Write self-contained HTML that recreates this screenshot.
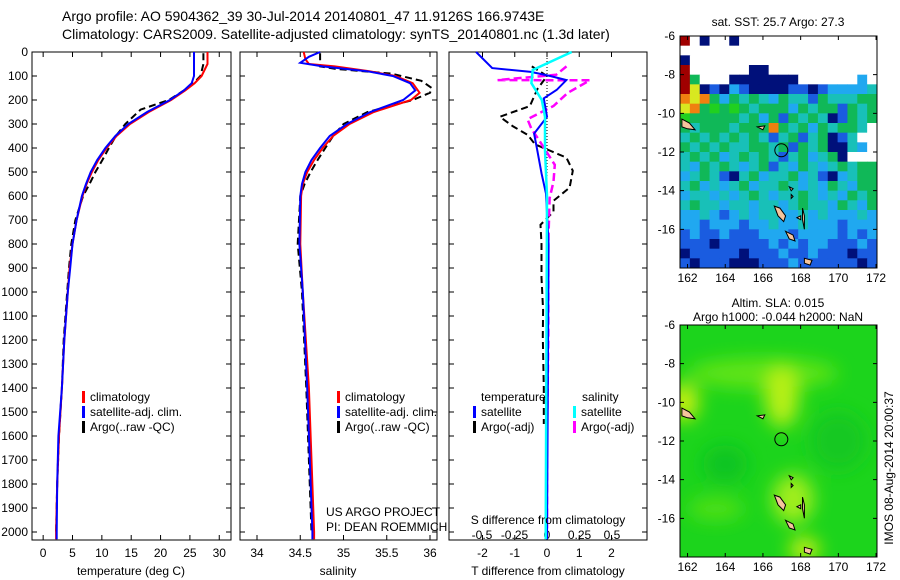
<!DOCTYPE html>
<html><head><meta charset="utf-8"><style>
html,body{margin:0;padding:0;background:#fff;}
svg{display:block;font-family:"Liberation Sans",sans-serif;}
</style></head><body>
<svg id="fig" width="900" height="580" viewBox="0 0 900 580" xmlns="http://www.w3.org/2000/svg">
<text x="62" y="21" font-size="14">Argo profile: AO 5904362_39 30-Jul-2014 20140801_47 11.9126S 166.9743E</text>
<text x="62" y="39" font-size="14">Climatology: CARS2009. Satellite-adjusted climatology: synTS_20140801.nc (1.3d later)</text>
<g id="p1"></g>
<g id="p2"></g>
<g id="p3"></g>
<g id="m1"></g>
<g id="m2"></g>
<text transform="translate(893,468) rotate(-90)" text-anchor="middle" font-size="12">IMOS 08-Aug-2014 20:00:37</text>
</svg>
<script>
// ---- data ----
const depthTicks=[0,100,200,300,400,500,600,700,800,900,1000,1100,1200,1300,1400,1500,1600,1700,1800,1900,2000];
const tempTicks=[0,5,10,15,20,25,30];
const salTicks=[34,34.5,35,35.5,36];
const salTickLabels=["34","34.5","35","35.5","36"];
const tdiffTicks=[-2,-1,0,1,2];
const sdiffTicks=[-0.5,-0.25,0,0.25,0.5];
const sdiffTickLabels=["-0.5","-0.25","0","0.25","0.5"];

const depClimT=[0,50,100,130,160,200,250,300,350,400,450,500,550,600,700,800,900,1000,1200,1400,1600,1800,2000,2030];
const climT=[28,28,27,25.8,24.2,21.8,18,14.8,12.5,10.8,9.4,8.3,7.4,6.7,5.7,5.0,4.5,4.2,3.6,3.2,2.7,2.4,2.2,2.2];
const satT=[25.7,25.7,25.7,25.3,24,21.6,17.7,14.5,12.3,10.6,9.2,8.1,7.3,6.6,5.7,5.0,4.6,4.2,3.6,3.2,2.6,2.4,2.3,2.3];
const depArgoT=[5,50,100,130,160,200,240,300,350,400,450,500,550,600,700,800,900,1000,1200,1400,1600,1800,2000];
const argoT=[27.3,27.3,26.8,25.6,24,21.4,16.6,14.0,12.4,11.2,10.1,8.9,7.9,6.8,5.5,4.8,4.4,4.1,3.5,3.2,2.7,2.4,2.2];

const depSatS=[0,20,45,60,80,100,130,160,200,250,300,350,400,450,500,550,600,800,1000,1400,2000,2030];
const satS=[34.73,34.6,34.5,34.76,35.27,35.57,35.77,35.83,35.69,35.31,35.04,34.84,34.73,34.63,34.56,34.52,34.5,34.49,34.53,34.58,34.64,34.64];
const depClimS=[0,30,50,60,80,100,130,170,200,250,300,350,400,450,500,550,600,800,1000,1400,2000,2030];
const climS=[34.54,34.56,34.6,34.9,35.3,35.6,35.8,35.88,35.78,35.35,35.07,34.88,34.76,34.66,34.58,34.53,34.51,34.5,34.53,34.6,34.66,34.66];
const depArgoS=[5,50,60,70,90,120,150,170,200,250,300,350,400,450,500,550,600,800,1000,1400,2000];
const argoS=[34.73,34.73,34.73,34.9,35.55,35.9,36.02,36.0,35.8,35.28,35.0,34.88,34.79,34.7,34.62,34.55,34.5,34.47,34.52,34.57,34.63];

const depSatTd=[0,67,83,100,117,158,193,270,340,410,505,590,800,2030];
const satTd=[-2.2,-1.7,-0.5,0.1,0.6,0.3,-0.1,0,-0.4,-0.3,-0.17,-0.03,0.05,0.0];
const depSatSd=[0,75,130,200,270,410,600,2030];
const satSd=[0.19,-0.11,-0.12,-0.04,-0.015,-0.015,0,-0.01];
const depArgoSd=[60,95,117,118,170,225,280,320,360,470,540,610,800,1200,1600,2000];
const argoSd=[0.15,0.07,-0.38,0.33,0.16,0.05,-0.15,-0.12,-0.07,0.06,0.05,0.02,0.01,0.01,0.0,0.0];
const depArgoTd=[60,100,155,225,270,310,345,385,440,495,565,620,665,720,800,940,1075,1185,1400,1550];
const argoTd=[-0.47,0,-0.3,-0.53,-1.46,-1.05,-0.6,-0.37,0.6,0.8,0.7,0.2,0.2,-0.2,-0.17,-0.17,-0.12,-0.13,-0.1,-0.1];

const lonTicks=[162,164,166,168,170,172];
const latTicks=[-6,-8,-10,-12,-14,-16];
const sstRows=[
"rwNwwNwwwwwwwwwwwwww","wwwwwwwwwwwwwwwwwwww","Nwwwwwwwwwwwwwwwwwww","rwwwwwwNNwwwwwwwwwww",
"rgwwwNNNNNNNwwwwwwcw","ryNbNcbNNNNbbNbcccct","oyogcgtgtcgttbgtttgg","yogGgGgtgggcgtggbgtg",
"GgggggtgcgbgtgtNbgtg","gtgggtgggogtgcgtggtw","tgtgtgtgtbtgbtgNbtww","gtgtgttggtgbgtgNNtcw",
"tgtgctgtgtbtgctgNwww","tcgtgtctgbtcgtctgtgg","ctgtbNtgcttgctbNctgg","tgctctgcttgtctcgtcgg",
"cttctctgtcttgtctcgtg","tgttcttcttctgttcgtcg","cctcbctcttcctctccctc","ccbcccbcctcctcccbccc",
"bcbbcbbbcccbccccbcbc","bbbNbbbbbcbcbccbbbcb","NbbbbbNbbbcbbcbbbNbb","bNbbbNNNbbbcbbbbbbNb"];
const argoLon=166.9743, argoLat=-11.9126;

// ---- helpers ----
const NS="http://www.w3.org/2000/svg";
function mk(tag,attrs,parent){const e=document.createElementNS(NS,tag);for(const k in attrs)e.setAttribute(k,attrs[k]);parent.appendChild(e);return e;}
const Y0=52, PXD=0.24, YB=540;
const yD=d=>Y0+d*PXD;
function lin(d0,d1,r0,r1){return v=>r0+(v-d0)*(r1-r0)/(d1-d0);}

function frame(g,x0,x1){
  const r=mk('rect',{x:x0,y:Y0,width:x1-x0,height:YB-Y0,fill:'none',stroke:'#000','stroke-width':1},g);
  
  
  depthTicks.forEach(d=>{
    const t=mk('path',{d:`M${x0},${yD(d)}h5M${x1},${yD(d)}h-5`,stroke:'#000','stroke-width':1},g);
    
    
  });
}
function xticks(g,vals,labels,sx,ylab){
  vals.forEach((v,i)=>{
    const x=sx(v);
    const t=mk('path',{d:`M${x},${YB}v-5M${x},${Y0}v5`,stroke:'#000','stroke-width':1},g);
    
    
    if(labels){const tx=mk('text',{x:x,y:ylab,'text-anchor':'middle','font-size':12},g);tx.textContent=labels[i];
      
      }
  });
}
function line(g,xs,ds,sx,color,w,dash,name){
  const p=xs.map((v,i)=>`${i?'L':'M'}${sx(v).toFixed(1)},${yD(ds[i]).toFixed(1)}`).join('');
  const a={d:p,fill:'none',stroke:color,'stroke-width':w};if(dash)a['stroke-dasharray']=dash;
  const e=mk('path',a,g);
  
  
}
function legend(g,x,y,items){
  items.forEach((it,i)=>{
    const b=mk('rect',{x:x,y:y+i*15-10,width:3,height:12,fill:it[0]},g);
    
    
    const t=mk('text',{x:x+8,y:y+i*15,'font-size':12},g);t.textContent=it[1];
    
    
  });
}

// ---- panel 1 temperature ----
const p1=document.getElementById('p1');
const sxT=lin(-1.9,32,32,231);
frame(p1,32,231);
depthTicks.forEach(d=>{const t=mk('text',{x:28,y:yD(d)+4,'text-anchor':'end','font-size':12},p1);t.textContent=d;
  
  });
xticks(p1,tempTicks,tempTicks.map(String),sxT,557);
line(p1,argoT,depArgoT,sxT,'#000',2,'7,4','argo-temperature-line');
line(p1,climT,depClimT,sxT,'#f00',2,null,'climatology-temperature-line');
line(p1,satT,depClimT,sxT,'#00f',2,null,'satellite-temperature-line');
legend(p1,82,401,[['#f00','climatology'],['#00f','satellite-adj. clim.'],['#000','Argo(..raw -QC)']]);
{const t=mk('text',{x:131,y:575,'text-anchor':'middle','font-size':12},p1);t.textContent='temperature (deg C)';
}

// ---- panel 2 salinity ----
const p2=document.getElementById('p2');
const sxS=lin(34,36,257,430);
frame(p2,240,437);
xticks(p2,salTicks,salTickLabels,sxS,557);
line(p2,argoS,depArgoS,sxS,'#000',2,'7,4','argo-salinity-line');
line(p2,climS,depClimS,sxS,'#f00',2,null,'climatology-salinity-line');
line(p2,satS,depSatS,sxS,'#00f',2,null,'satellite-salinity-line');
legend(p2,337,401,[['#f00','climatology'],['#00f','satellite-adj. clim.'],['#000','Argo(..raw -QC)']]);
{const t=mk('text',{x:326,y:516,'font-size':12},p2);t.textContent='US ARGO PROJECT';
const t2=mk('text',{x:326,y:531,'font-size':12},p2);t2.textContent='PI: DEAN ROEMMICH';
const t3=mk('text',{x:338,y:575,'text-anchor':'middle','font-size':12},p2);t3.textContent='salinity';}

// ---- panel 3 differences ----
const p3=document.getElementById('p3');
const sxTd=lin(0,1,547,579.25);
const sxSd=lin(0,1,547,677);
frame(p3,449,647);
xticks(p3,tdiffTicks,tdiffTicks.map(String),sxTd,557);
{const z=mk('path',{d:`M547,${Y0}V${YB}`,stroke:'#000','stroke-width':1,'stroke-dasharray':'1,2'},p3);}
sdiffTicks.forEach((v,i)=>{const t=mk('text',{x:sxSd(v),y:539,'text-anchor':'middle','font-size':12},p3);t.textContent=sdiffTickLabels[i];
  });
line(p3,argoTd,depArgoTd,sxTd,'#000',2,'7,4','argo-temperature-diff-line');
line(p3,argoSd,depArgoSd,sxSd,'#f0f',2.5,'8,4','argo-salinity-diff-line');
line(p3,satTd,depSatTd,sxTd,'#00f',2,null,'satellite-temperature-diff-line');
line(p3,satSd,depSatSd,sxSd,'#0ff',2.5,null,'satellite-salinity-diff-line');
{const t=mk('text',{x:481,y:401,'font-size':12},p3);t.textContent='temperature';
const t2=mk('text',{x:582,y:401,'font-size':12},p3);t2.textContent='salinity';}
legend(p3,473,416,[['#00f','satellite'],['#000','Argo(-adj)']]);
legend(p3,573,416,[['#0ff','satellite'],['#f0f','Argo(-adj)']]);
{const t=mk('text',{x:548,y:524,'text-anchor':'middle','font-size':12},p3);t.textContent='S difference from climatology';
const t2=mk('text',{x:548,y:575,'text-anchor':'middle','font-size':12},p3);t2.textContent='T difference from climatology';}

// ---- maps ----
const colors={N:'#00107a',b:'#1a5ce0',c:'#20a8f0',t:'#18c0b8',g:'#10b858',G:'#20d020',y:'#d8e820',o:'#f08010',r:'#a00000',w:'#ffffff'};
const islands=[
 [[161.7,-10.3],[162.1,-10.5],[162.4,-10.85],[162.0,-10.8],[161.7,-10.7]],
 [[166.6,-14.8],[166.9,-14.9],[167.2,-15.3],[167.1,-15.6],[166.8,-15.3]],
 [[167.2,-16.1],[167.6,-16.3],[167.7,-16.6],[167.4,-16.5]],
 [[168.1,-14.9],[168.2,-15.3],[168.2,-16.0],[168.1,-15.5]],
 [[168.2,-17.5],[168.6,-17.6],[168.5,-17.85],[168.2,-17.75]],
 [[167.8,-15.4],[168.0,-15.3],[168.0,-15.5]],
 [[165.7,-10.7],[166.1,-10.65],[166.0,-10.85]],
 [[167.5,-14.2],[167.6,-14.3],[167.5,-14.4]],
 [[167.4,-13.8],[167.6,-13.9],[167.5,-14.0]]
];
function map(gid,top,title1,title2){
  const g=document.getElementById(gid);
  const x0=680,x1=877,bot=top+232;
  const sx=lin(161.6,172.05,x0,x1), sy=lin(-6,-18,top,bot);
  const clipId=gid+'clip';
  const cp=mk('clipPath',{id:clipId},g);mk('rect',{x:x0,y:top,width:x1-x0,height:bot-top},cp);
  const body=mk('g',{'clip-path':`url(#${clipId})`},g);
  if(gid==='m1'){
    const cw=(x1-x0)/20,ch=(bot-top)/24;
    sstRows.forEach((row,r)=>{for(let c=0;c<row.length;c++){
      const e=mk('rect',{x:(x0+c*cw).toFixed(2),y:(top+r*ch).toFixed(2),width:(cw+0.4).toFixed(2),height:(ch+0.4).toFixed(2),fill:colors[row[c]]},body);
      
      
    }});
  } else {
    const f=mk('filter',{id:'blur',x:'-50%',y:'-50%',width:'200%',height:'200%'},g);mk('feGaussianBlur',{stdDeviation:9},f);
    const bg=mk('rect',{x:x0,y:top,width:x1-x0,height:bot-top,fill:'#1cd41c'},body);
    
    const bl=mk('g',{filter:'url(#blur)'},body);
    [[166,-8.5,4,0.8,'#60e418'],[167,-9.7,0.9,1.6,'#b8f014'],[161.8,-10,0.8,1,'#c8f010'],[167.6,-15,1.1,1.3,'#a0ee1c'],
     [168.2,-17.6,0.8,0.6,'#d0f010'],[164,-13.2,1.2,1,'#10c424'],[170,-12,1.5,1.5,'#12c820'],[163.5,-15.5,1.5,0.6,'#50e018']
    ].forEach(b=>mk('ellipse',{cx:sx(b[0]),cy:sy(b[1]),rx:b[2]*18.8,ry:b[3]*19.3,fill:b[4]},bl));
  }
  islands.forEach(pl=>{const e=mk('polygon',{points:pl.map(p=>sx(p[0]).toFixed(1)+','+sy(p[1]).toFixed(1)).join(' '),fill:'#f5c49c',stroke:'#000','stroke-width':1},body);
    });
  const c=mk('circle',{cx:sx(argoLon),cy:sy(argoLat),r:6.5,fill:'none',stroke:'#000','stroke-width':1},g);
  
  const fr=mk('rect',{x:x0,y:top,width:x1-x0,height:bot-top,fill:'none',stroke:'#000'},g);
  
  lonTicks.forEach(v=>{mk('path',{d:`M${sx(v)},${bot}v-4M${sx(v)},${top}v4`,stroke:'#000'},g);
    const t=mk('text',{x:sx(v),y:bot+14,'text-anchor':'middle','font-size':12},g);t.textContent=v;
    });
  latTicks.forEach(v=>{mk('path',{d:`M${x0},${sy(v)}h4M${x1},${sy(v)}h-4`,stroke:'#000'},g);
    const t=mk('text',{x:x0-5,y:sy(v)+4,'text-anchor':'end','font-size':12},g);t.textContent=v;
    });
  const t1=mk('text',{x:778,y:top-(title2?18:10),'text-anchor':'middle','font-size':12},g);t1.textContent=title1;
  
  if(title2){const t2=mk('text',{x:778,y:top-4,'text-anchor':'middle','font-size':12},g);t2.textContent=title2;
    }
}
map('m1',36,'sat. SST: 25.7 Argo: 27.3');
map('m2',325,'Altim. SLA: 0.015','Argo h1000: -0.044 h2000: NaN');
</script>
</body></html>
